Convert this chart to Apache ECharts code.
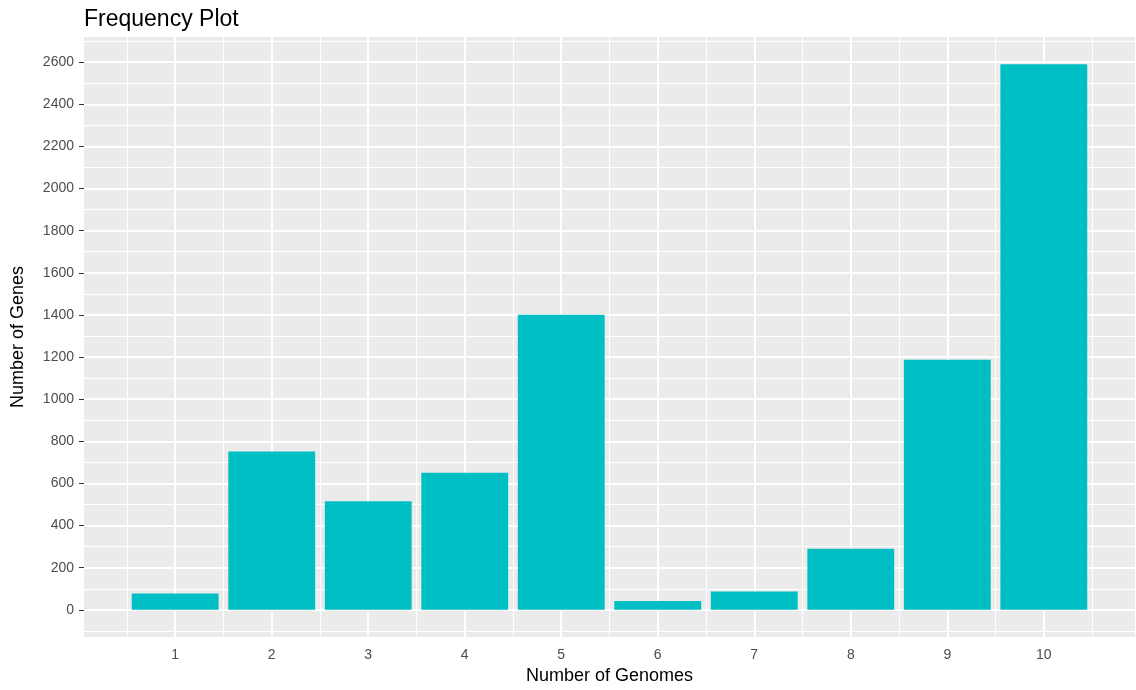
<!DOCTYPE html>
<html>
<head>
<meta charset="utf-8">
<script src="https://cdn.jsdelivr.net/npm/echarts@6/dist/echarts.min.js"></script>
<style>
html,body{margin:0;padding:0;background:#fff;}
#c{width:1136px;height:690px;}
</style>
</head>
<body>
<div id="c"></div>
<script>
// Data
const genomes = [1, 2, 3, 4, 5, 6, 7, 8, 9, 10];
const genes = [77, 752, 516, 651, 1401, 42, 87, 290, 1187, 2590];
// Tick values
const xTicks = [1, 2, 3, 4, 5, 6, 7, 8, 9, 10];
const xMinor = [0.5, 1.5, 2.5, 3.5, 4.5, 5.5, 6.5, 7.5, 8.5, 9.5, 10.5];
const yTicks = [0, 200, 400, 600, 800, 1000, 1200, 1400, 1600, 1800, 2000, 2200, 2400, 2600];
const yMinor = [-100, 100, 300, 500, 700, 900, 1100, 1300, 1500, 1700, 1900, 2100, 2300, 2500, 2700];

const barW = 0.9;
const xMin = 0.55 - 0.05 * 9.9, xMax = 10.45 + 0.05 * 9.9;
const yMax0 = Math.max.apply(null, genes);
const yMin = -0.05 * yMax0, yMax = yMax0 * 1.05;

const FONT = 'Liberation Sans, Arial, sans-serif';
const chart = echarts.init(document.getElementById('c'), null, {renderer: 'canvas'});

function gridLines(vals, axisKey, width) {
  return vals.map(v => ({[axisKey]: v, lineStyle: {width: width}}));
}

chart.setOption({
  animation: false,
  backgroundColor: '#fff',
  title: {
    text: 'Frequency Plot',
    left: 79, top: 3,
    textStyle: {fontFamily: FONT, fontSize: 23, fontWeight: 'normal', color: '#000'}
  },
  grid: {
    left: 84, right: 1, top: 37, bottom: 51,
    show: true, backgroundColor: '#EBEBEB', borderWidth: 0
  },
  xAxis: {
    type: 'value', min: xMin, max: xMax,
    name: 'Number of Genomes', nameLocation: 'middle', nameGap: 28,
    nameTextStyle: {fontFamily: FONT, fontSize: 18, color: '#000'},
    axisLine: {show: false},
    axisTick: {show: true, length: 4, lineStyle: {color: '#333', width: 1}, customValues: xTicks},
    axisLabel: {fontFamily: FONT, fontSize: 14, color: '#4D4D4D', margin: 11, customValues: xTicks,
      formatter: v => String(v)},
    splitLine: {show: false}
  },
  yAxis: {
    type: 'value', min: yMin, max: yMax,
    name: 'Number of Genes', nameLocation: 'middle', nameGap: 57,
    nameTextStyle: {fontFamily: FONT, fontSize: 18, color: '#000'},
    axisLine: {show: false},
    axisTick: {show: true, length: 5, lineStyle: {color: '#333', width: 1}, customValues: yTicks},
    axisLabel: {fontFamily: FONT, fontSize: 14, color: '#4D4D4D', margin: 10, customValues: yTicks,
      formatter: v => String(v)},
    splitLine: {show: false}
  },
  series: [
    {
      type: 'scatter', data: [], z: 1, silent: true,
      markLine: {
        silent: true, symbol: 'none', animation: false,
        label: {show: false},
        lineStyle: {color: '#FFFFFF', type: 'solid', opacity: 1},
        data: []
          .concat(gridLines(xMinor, 'xAxis', 1))
          .concat(gridLines(yMinor, 'yAxis', 1))
          .concat(gridLines(xTicks, 'xAxis', 2))
          .concat(gridLines(yTicks, 'yAxis', 2))
      }
    },
    {
      type: 'custom', z: 5,
      data: genomes.map((g, i) => [g, genes[i]]),
      renderItem: function (params, api) {
        const x = api.value(0), y = api.value(1);
        const p0 = api.coord([x - barW / 2, y]);
        const p1 = api.coord([x + barW / 2, 0]);
        return {
          type: 'rect',
          shape: {x: p0[0], y: p0[1], width: p1[0] - p0[0], height: p1[1] - p0[1]},
          style: {fill: '#00BFC4'}
        };
      }
    }
  ]
});
</script>
</body>
</html>
